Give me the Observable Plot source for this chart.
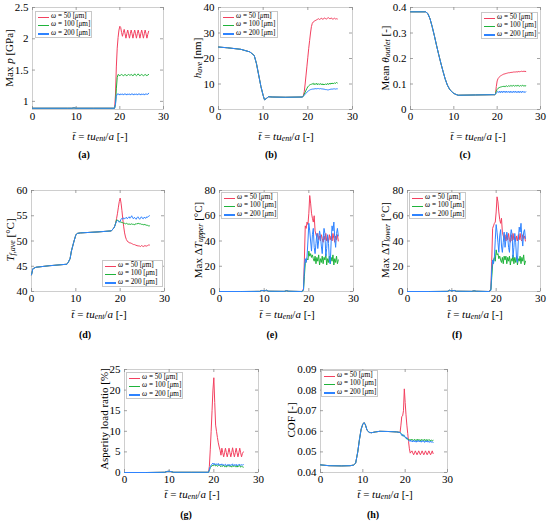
<!DOCTYPE html>
<html><head><meta charset="utf-8">
<script src="https://cdn.jsdelivr.net/npm/d3@7"></script>
<script src="https://cdn.jsdelivr.net/npm/@observablehq/plot@0.6"></script>
<style>
body{margin:0;background:#fff;}
#fig{position:relative;width:550px;height:524px;overflow:hidden;font-family:"Liberation Serif",serif;color:#000;background:#fff;}
.lab{position:absolute;white-space:nowrap;font-size:11px;line-height:1;transform:translate(-50%,-50%);}
.ylab{position:absolute;white-space:nowrap;font-size:11px;line-height:1;transform:translate(-50%,-50%) rotate(-90deg);}
.sub{position:absolute;white-space:nowrap;font-weight:bold;font-size:10px;line-height:1;transform:translate(-50%,-50%);}
.leg{position:absolute;border:1px solid #c8c8c8;background:#fff;font-size:7.2px;line-height:1;box-sizing:border-box;}
.leg .row{position:absolute;left:0;white-space:nowrap;}
.leg .sw{position:absolute;left:2px;width:11px;height:1.2px;}
.leg .tx{position:absolute;left:15px;top:-3.6px;}
sub{font-size:72%;vertical-align:-0.25em;line-height:0;}
svg{position:absolute;}
</style></head><body><div id="fig"></div><script>
// ---------- data ----------
const xTicks = [0, 10, 20, 30];
const seriesLabels = ["50", "100", "200"];
const tPost = [18.8,19.0,19.2,19.4,19.6,19.8,20.0,20.2,20.4,20.6,20.8,21.0,21.2,21.4,21.6,21.8,22.0,22.2,22.4,22.6,22.8,23.0,23.2,23.4,23.6,23.8,24.0,24.2,24.4,24.6,24.8,25.0,25.2,25.4,25.6,25.8,26.0,26.2,26.4,26.6];

// (a) Max p
const aTicks = [1, 1.5, 2, 2.5];
const aPreT = [0,4,8,9,9.5,10,14,18.8];
const aPreV = [0.89,0.89,0.89,0.89,0.895,0.89,0.89,0.89];
const aRed = [0.89,1.10,1.55,1.85,2.02,2.14,2.20,2.18,2.10,2.04,
 2.10,2.15,2.08,2.01,2.08,2.14,2.08,2.01,2.08,2.14,
 2.08,2.01,2.08,2.14,2.08,2.01,2.08,2.14,2.08,2.01,
 2.08,2.14,2.08,2.01,2.08,2.14,2.08,2.01,2.07,2.12];
const aGreen = [0.89,0.95,1.20,1.38,1.43,1.42,1.41,1.42,1.43,1.42,
 1.41,1.42,1.43,1.42,1.41,1.42,1.43,1.42,1.42,1.43,
 1.42,1.41,1.42,1.44,1.42,1.41,1.42,1.44,1.42,1.41,
 1.42,1.43,1.42,1.41,1.42,1.43,1.42,1.41,1.42,1.43];
const aBlue = [0.89,0.95,1.08,1.12,1.11,1.12,1.10,1.12,1.11,1.12,
 1.10,1.12,1.11,1.12,1.10,1.12,1.11,1.12,1.10,1.12,
 1.11,1.12,1.10,1.12,1.11,1.12,1.10,1.12,1.11,1.12,
 1.10,1.12,1.11,1.12,1.10,1.12,1.11,1.12,1.11,1.13];

// (b) h_ave
const bTicks = [0, 10, 20, 30, 40];
const bPreT = [0,2,5,7,8,8.5,9,9.5,10,10.3,10.7,11.2,12,15,18.8];
const bPreV = [24.5,24.2,23.6,22.6,21.2,18,13.5,9,5.5,3.8,4.3,5.0,4.9,4.8,4.9];
const bRed = [4.9,5.5,7.0,10.0,13.5,17.0,20.5,24.0,27.0,30.0,
 32.5,33.8,34.3,34.6,34.8,35.0,35.2,35.4,35.6,35.3,
 35.5,35.8,35.5,35.4,35.7,35.9,35.6,35.5,35.8,36.0,
 35.7,35.6,35.9,35.7,35.4,35.6,35.8,35.5,35.6,35.5];
const bGreen = [4.9,5.3,6.0,6.8,7.6,8.3,8.9,9.3,9.6,9.8,
 9.9,10.0,10.3,9.7,10.2,9.8,10.3,9.7,10.1,9.8,
 10.2,9.7,10.1,9.6,10.0,9.7,10.1,9.7,10.2,9.8,
 10.3,9.9,10.4,10.0,10.4,10.1,10.5,10.2,10.6,10.4];
const bBlue = [4.9,5.2,5.6,6.0,6.4,6.8,7.1,7.4,7.6,7.8,
 7.9,8.0,8.0,8.1,8.1,8.2,8.1,8.2,8.2,8.1,
 8.2,8.1,8.1,8.0,8.0,7.9,7.8,7.8,7.7,7.7,
 7.8,7.9,8.0,8.0,8.0,8.1,8.1,8.0,8.1,8.1];

// (c) Mean theta_outlet
const cTicks = [0, 0.1, 0.2, 0.3, 0.4];
const cPreT = [0,3.5,4,4.5,5,5.5,6,6.5,7,7.5,8,8.5,9,9.5,10,10.5,11,15,18.8];
const cPreV = [0.383,0.383,0.376,0.356,0.325,0.29,0.252,0.216,0.182,0.150,0.120,0.096,0.080,0.070,0.063,0.059,0.056,0.057,0.058];
const cRed = [0.058,0.058,0.058,0.058,0.060,0.090,0.112,0.121,0.126,0.129,
 0.132,0.134,0.136,0.138,0.139,0.140,0.141,0.142,0.143,0.144,
 0.144,0.145,0.145,0.146,0.146,0.147,0.147,0.147,0.148,0.147,
 0.148,0.149,0.148,0.149,0.150,0.149,0.150,0.149,0.150,0.149];
const cGreen = [0.058,0.058,0.058,0.058,0.060,0.072,0.079,0.083,0.085,0.087,
 0.088,0.089,0.090,0.091,0.089,0.092,0.090,0.093,0.090,0.093,
 0.091,0.094,0.091,0.094,0.092,0.095,0.091,0.094,0.092,0.095,
 0.092,0.094,0.091,0.094,0.092,0.095,0.092,0.094,0.092,0.093];
const cBlue = [0.058,0.058,0.058,0.058,0.060,0.065,0.068,0.071,0.066,0.072,
 0.066,0.072,0.066,0.072,0.067,0.072,0.066,0.072,0.067,0.071,
 0.066,0.072,0.066,0.071,0.066,0.072,0.067,0.072,0.066,0.071,
 0.066,0.072,0.066,0.071,0.066,0.072,0.067,0.071,0.066,0.070];

// (d) T_f,ave
const dTicks = [40, 45, 50, 55, 60];
const dPreT = [0,0.3,1,4,8,8.3,8.7,9,9.3,9.6,10,10.3,11,15,18,18.6];
const dPreV = [43.3,44.5,44.8,45.1,45.4,45.8,46.5,48.0,49.0,50.0,51.2,51.5,51.6,51.8,52.0,52.6];
const dRed = [53.0,53.6,54.5,55.5,56.7,57.8,58.5,57.5,56.0,54.3,
 52.8,51.6,50.8,50.3,50.0,49.8,49.7,49.6,49.6,49.5,
 49.4,49.3,49.3,49.2,49.2,49.0,49.1,49.0,49.0,48.9,
 49.1,49.0,48.9,49.0,49.1,49.0,49.0,49.1,49.2,49.2];
const dGreen = [53.0,53.6,54.2,54.1,54.0,53.9,53.8,53.7,53.7,53.6,
 53.5,53.5,53.4,53.5,53.4,53.3,53.4,53.3,53.3,53.4,
 53.3,53.3,53.2,53.4,53.3,53.5,53.4,53.5,53.4,53.4,
 53.3,53.3,53.2,53.3,53.2,53.2,53.1,53.1,53.0,53.0];
const dBlue = [53.0,53.5,53.9,54.1,53.9,53.7,53.9,54.3,54.5,54.3,
 54.6,54.4,54.5,54.7,54.4,54.6,54.8,54.5,54.7,55.0,
 54.6,54.4,54.7,54.5,54.3,54.6,54.8,54.5,54.3,54.6,
 54.8,54.5,54.4,54.7,54.6,54.5,54.8,54.7,54.9,55.0];

// (e) Max dT upper
const eTicks = [0, 20, 40, 60, 80];
const ePreT = [0,5,9,9.5,10,10.5,11,14.5,15,15.5,18.4];
const ePreV = [0,0,0.1,0.9,0.5,1.0,0.2,0.1,0.6,0.2,0];
const eRed = [2,25,52,50,55,53,62,76,70,62,
 58,55,60,48,45,43,46,41,44,40,
 45,42,39,44,41,46,40,43,39,45,
 41,44,40,46,42,39,44,41,45,40];
const eGreen = [1,12,22,24,26,25,32,28,30,27,
 29,26,24,28,22,27,24,29,21,26,
 23,28,22,27,25,30,21,26,23,28,
 22,27,24,29,21,26,23,28,22,25];
const eBlue = [1,18,26,23,28,40,54,48,40,32,
 45,50,35,30,38,46,34,40,48,44,
 36,30,42,50,46,28,34,45,38,25,
 22,40,52,48,55,42,35,46,50,44];

// (f) Max dT lower
const fTicks = [0, 20, 40, 60, 80];
const fPreT = [0,5,9,9.5,10,10.5,11,14.5,15,15.5,18.4];
const fPreV = [0,0,0.1,1.0,0.4,0.9,0.2,0.1,0.5,0.2,0];
const fRed = [2,24,50,52,54,55,63,75,71,63,
 57,54,58,47,44,42,45,40,44,41,
 46,41,39,45,40,46,41,43,40,44,
 40,45,41,46,41,40,45,42,44,40];
const fGreen = [1,11,21,25,27,24,33,29,30,26,
 28,25,23,27,22,28,25,28,22,27,
 24,28,21,26,24,29,22,27,23,28,
 21,26,24,28,22,27,24,29,21,24];
const fBlue = [1,17,25,22,27,41,53,47,39,31,
 44,49,36,31,39,47,35,41,47,43,
 35,31,43,49,45,27,35,46,39,26,
 23,41,51,47,54,43,36,47,49,42];

// (g) Asperity load ratio
const gTicks = [0, 5, 10, 15, 20, 25];
const gPreT = [0,5,9,9.5,10,10.5,11,15,18.8];
const gPreV = [0,0,0.05,0.25,0.3,0.2,0.05,0.05,0.05];
const gRed = [0.05,1.5,5.5,10,15,20,23,17,11.5,10,
 8.5,7.2,6.2,5.4,4.2,5.9,4.8,3.8,4.8,5.9,
 4.8,3.8,4.8,5.9,4.8,3.8,4.8,6.0,4.8,3.8,
 4.8,5.9,4.8,3.8,4.8,5.9,4.8,3.8,4.6,5.0];
const gGreen = [0.05,0.5,1.2,1.5,1.6,1.8,1.7,1.9,1.6,1.8,
 1.5,1.7,1.9,1.6,1.4,1.7,1.5,1.8,1.4,1.6,
 1.3,1.7,1.5,1.8,1.4,1.6,1.3,1.7,1.5,1.6,
 1.4,1.7,1.3,1.6,1.5,1.7,1.3,1.5,1.4,1.3];
const gBlue = [0.05,0.6,1.4,1.8,2.0,2.3,1.9,2.2,1.8,2.1,
 1.9,2.2,1.7,2.0,1.8,2.1,1.7,1.9,1.8,2.0,
 1.6,1.9,1.7,2.0,1.6,1.9,1.8,2.1,1.6,1.9,
 1.7,2.0,1.6,1.9,1.8,2.0,1.7,1.9,1.8,1.9];

// (h) COF
const hTicks = [0.04, 0.05, 0.06, 0.07, 0.08, 0.09];
const hPreT = [0,2,5,7,7.8,8.3,8.8,9.2,9.6,10.0,10.3,10.6,11.0,11.5,12,13,14,16,18,18.6];
const hPreV = [0.0437,0.0433,0.0432,0.0433,0.0436,0.0445,0.0500,0.0560,0.0610,0.0635,0.0642,0.0632,0.0605,0.0595,0.0593,0.0597,0.0600,0.0599,0.0597,0.0595];
const hRed = [0.0595,0.0630,0.0672,0.0675,0.0700,0.0806,0.0740,0.0680,0.0630,0.0590,
 0.0550,0.0515,0.0494,0.0500,0.0505,0.0495,0.0486,0.0495,0.0505,0.0495,
 0.0486,0.0495,0.0505,0.0495,0.0486,0.0495,0.0505,0.0495,0.0486,0.0495,
 0.0505,0.0495,0.0486,0.0495,0.0505,0.0495,0.0486,0.0495,0.0505,0.0492];
const hGreen = [0.0595,0.0590,0.0585,0.0578,0.0582,0.0575,0.0570,0.0568,0.0562,0.0565,
 0.0558,0.0560,0.0555,0.0562,0.0556,0.0560,0.0554,0.0561,0.0555,0.0560,
 0.0554,0.0562,0.0555,0.0559,0.0553,0.0561,0.0555,0.0560,0.0554,0.0561,
 0.0555,0.0560,0.0553,0.0560,0.0555,0.0559,0.0553,0.0558,0.0554,0.0556];
const hBlue = [0.0595,0.0588,0.0580,0.0585,0.0576,0.0580,0.0572,0.0566,0.0570,0.0560,
 0.0556,0.0552,0.0558,0.0550,0.0555,0.0548,0.0556,0.0549,0.0554,0.0547,
 0.0555,0.0549,0.0556,0.0548,0.0553,0.0547,0.0555,0.0549,0.0554,0.0546,
 0.0553,0.0548,0.0555,0.0547,0.0552,0.0546,0.0553,0.0547,0.0550,0.0545];

// ---------- layout ----------
const RED = "#f3405f", GREEN = "#1fb33b", BLUE = "#2e83ff";
const COLORS = [RED, GREEN, BLUE];
const XLAB = '<i>t&#772;</i> = <i>tu<sub>ent</sub></i>/<i>a</i> [-]';

const panels = [
 {id:"a", x0:32, x1:163, y0:7, y1:109, dom:[0.87,2.5], ticks:aTicks, preT:aPreT, preV:aPreV, s:[aRed,aGreen,aBlue],
  ylab:'Max <i>p</i> [GPa]', yl:[9,58], leg:[35,11,57], xl:[100,136], sub:[84,155]},
 {id:"b", x0:218, x1:352, y0:7, y1:109, dom:[0,40], ticks:bTicks, preT:bPreT, preV:bPreV, s:[bRed,bGreen,bBlue],
  ylab:'<i>h<sub>ave</sub></i> [nm]', yl:[197,58], leg:[220,11,58], xl:[286,136], sub:[271,155]},
 {id:"c", x0:410, x1:540, y0:7, y1:109, dom:[0,0.4], ticks:cTicks, preT:cPreT, preV:cPreV, s:[cRed,cGreen,cBlue],
  ylab:'Mean <i>θ<sub>outlet</sub></i> [-]', yl:[385,58], leg:[481,12,57], xl:[478,136], sub:[465,155]},
 {id:"d", x0:31, x1:164, y0:190, y1:291, dom:[40,60], ticks:dTicks, preT:dPreT, preV:dPreV, s:[dRed,dGreen,dBlue],
  ylab:'<i>T<sub>f,ave</sub></i> [°C]', yl:[10,240], leg:[102,260,61], xl:[99,314], sub:[85,335]},
 {id:"e", x0:219, x1:353, y0:190, y1:291, dom:[0,80], ticks:eTicks, preT:ePreT, preV:ePreV, s:[eRed,eGreen,eBlue],
  ylab:'Max Δ<i>T<sub>upper</sub></i> [°C]', yl:[198,240], leg:[221,192,57], xl:[287,314], sub:[272,335]},
 {id:"f", x0:407, x1:540, y0:190, y1:291, dom:[0,80], ticks:fTicks, preT:fPreT, preV:fPreV, s:[fRed,fGreen,fBlue],
  ylab:'Max Δ<i>T<sub>lower</sub></i> [°C]', yl:[385,240], leg:[409,192,57], xl:[475,314], sub:[457,335]},
 {id:"g", x0:124, x1:258, y0:369, y1:472, dom:[0,25], ticks:gTicks, preT:gPreT, preV:gPreV, s:[gRed,gGreen,gBlue],
  ylab:'Asperity load ratio [%]', yl:[104,419], leg:[126,372,57], xl:[192,494], sub:[186,515]},
 {id:"h", x0:320, x1:447, y0:369, y1:472, dom:[0.04,0.09], ticks:hTicks, preT:hPreT, preV:hPreV, s:[hRed,hGreen,hBlue],
  ylab:'COF [-]', yl:[291,420], leg:[321,370,57], xl:[385,494], sub:[373,515]}
];

const fig = document.getElementById("fig");
function addHTML(cls, x, y, html, extra) {
  const d = document.createElement("div");
  d.className = cls; d.style.left = x + "px"; d.style.top = y + "px";
  if (extra) Object.assign(d.style, extra);
  d.innerHTML = html; fig.appendChild(d); return d;
}

for (const p of panels) {
  const W = p.x1 - p.x0, H = p.y1 - p.y0;
  const mL = 34, mR = 8, mT = 6, mB = 16;
  const pre = p.preT.map((t, i) => ({t, v: p.preV[i]}));
  const lines = p.s.map((arr, k) => ({c: COLORS[k], d: pre.concat(tPost.map((t, i) => ({t, v: arr[i]})))}));
  const svg = Plot.plot({
    width: W + mL + mR, height: H + mT + mB,
    marginLeft: mL, marginRight: mR, marginTop: mT, marginBottom: mB,
    style: {fontFamily: '"Liberation Serif", serif', fontSize: "11px", color: "#000", background: "transparent", overflow: "visible"},
    x: {domain: [0, 30]},
    y: {domain: p.dom},
    marks: [
      Plot.frame({stroke: "#c2c2c2", strokeWidth: 0.8}),
      Plot.tickX(xTicks, {x: d => d, insetTop: H - 3, stroke: "#8a8a8a", strokeWidth: 0.8}),
      Plot.tickX(xTicks, {x: d => d, insetBottom: H - 3, stroke: "#8a8a8a", strokeWidth: 0.8}),
      Plot.tickY(p.ticks, {y: d => d, insetRight: W - 3, stroke: "#8a8a8a", strokeWidth: 0.8}),
      Plot.tickY(p.ticks, {y: d => d, insetLeft: W - 3, stroke: "#8a8a8a", strokeWidth: 0.8}),
      Plot.axisX({ticks: xTicks, tickSize: 0, tickPadding: 3, label: null, tickFormat: d => String(d)}),
      Plot.axisY({ticks: p.ticks, tickSize: 0, tickPadding: 4, label: null, tickFormat: d => String(d)}),
      ...lines.map(l => Plot.line(l.d, {x: "t", y: "v", stroke: l.c, strokeWidth: 1}))
    ]
  });
  svg.style.left = (p.x0 - mL) + "px";
  svg.style.top = (p.y0 - mT) + "px";
  fig.appendChild(svg);

  addHTML("ylab", p.yl[0], p.yl[1], p.ylab);
  addHTML("lab", p.xl[0], p.xl[1], XLAB);
  addHTML("sub", p.sub[0], p.sub[1], "(" + p.id + ")");

  const [lx, ly, lw] = p.leg;
  let rows = "";
  seriesLabels.forEach((s, k) => {
    rows += `<div class="row" style="top:${4.6 + k * 8.4}px;width:${lw}px"><span class="sw" style="background:${COLORS[k]}"></span><span class="tx"><i>ω</i> = ${s} [<i>μ</i>m]</span></div>`;
  });
  addHTML("leg", lx, ly, rows, {width: lw + "px", height: "26.5px"});
}
</script></body></html>
